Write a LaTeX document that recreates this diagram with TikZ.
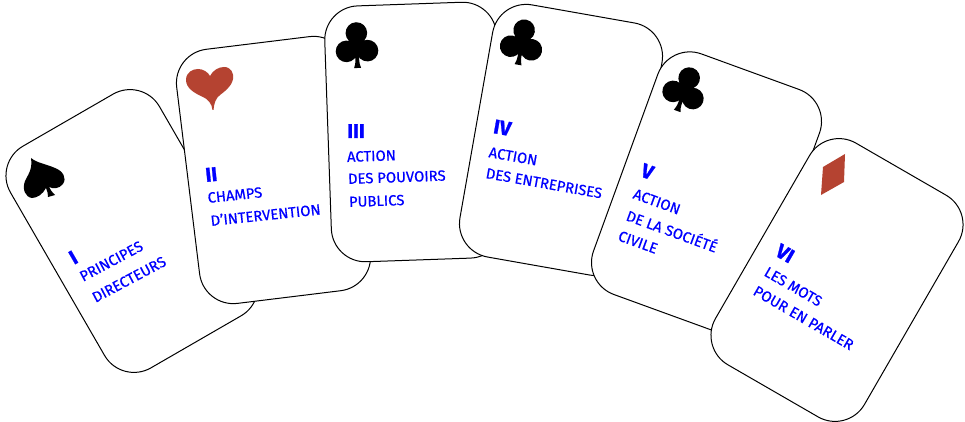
\documentclass[tikz,border=0pt]{standalone}
\usepackage{fontspec}
\setmainfont{Fira Sans}
\newfontfamily\labfont[FakeBold=0.5]{Fira Sans}
\newfontfamily\numfont[FakeBold=1.2]{Fira Sans}
\definecolor{suitred}{RGB}{181,67,49}
\definecolor{txtblue}{RGB}{0,0,255}
\tikzset{
  card/.style={draw=black,fill=white,line width=1pt,rectangle,minimum width=172pt,minimum height=256pt,rounded corners=34pt,inner sep=0pt},
  lab/.style={text=txtblue,anchor=base west,inner sep=0pt,font=\labfont\fontsize{14.8}{15}\selectfont},
  num/.style={text=txtblue,anchor=base west,inner sep=0pt,font=\numfont\fontsize{20}{20}\selectfont\bfseries},
  suitblack/.style={fill=black,draw=none},
  suitredf/.style={fill=suitred,draw=none},
  clubsuit/.pic={
    \fill[suitblack] (0,-18) circle (10.8) (-10.5,0) circle (10.8) (10.5,0) circle (10.8);
    \fill[suitblack] (-6,-10) -- (6,-10) -- (1.8,8) .. controls (2,12) and (2.5,15) .. (3.5,17) -- (-3.5,17) .. controls (-2.5,15) and (-2,12) .. (-1.8,8) -- cycle;
  }
}
\begin{document}
\begin{tikzpicture}[x=1pt,y=-1pt]
\useasboundingbox (0,0) rectangle (965,422);
% I
\node[card,rotate=30] (c1) at (132,231) {};
\fill[suitblack] (31,158) .. controls (37,163) and (46,164) .. (55,168) .. controls (63,171) and (67,178) .. (63,184) .. controls (59,189) and (53,189) .. (49,187) .. controls (50.5,190) and (52,192) .. (55,195) -- (48,197) .. controls (48,194) and (47.5,191) .. (46,188) .. controls (43,194) and (37,198) .. (32,198) .. controls (25,197) and (22,189) .. (25,181) .. controls (27,176) and (33,170) .. (31,158) -- cycle;
\node[num,rotate=30] (n1) at (74,265) {I};
\node[lab,rotate=28] (t1a) at (83,282) {PRINCIPES};
\node[lab,rotate=28] (t1b) at (95.5,303) {DIRECTEURS};
% II
\node[card,rotate=7] (c2) at (273.5,170) {};
\fill[suitredf] (210,76) .. controls (213,70) and (219,67) .. (224,67) .. controls (231,67) and (234,73) .. (233,79) .. controls (232,86) and (224,92) .. (220,95) .. controls (216,98) and (214,103) .. (213.5,110) -- (212.5,110) .. controls (212,104) and (208,99) .. (203,97) .. controls (194,93) and (186,88) .. (186,80) .. controls (186,72) and (193,69) .. (198,69) .. controls (203,69) and (208,72) .. (210,76) -- cycle;
\node[num,rotate=6] (n2) at (206,182) {II};
\node[lab,rotate=6] (t2a) at (208,203) {CHAMPS};
\node[lab,rotate=6] (t2b) at (211,226) {D’INTERVENTION};
% III
\node[card,rotate=2] (c3) at (414,132) {};
\pic[rotate=2] at (357,51) {clubsuit};
\node[num,rotate=0] (n3) at (347,138) {III};
\node[lab,rotate=2] (t3a) at (347,162) {ACTION};
\node[lab,rotate=2] (t3b) at (348,184) {DES POUVOIRS};
\node[lab,rotate=2] (t3c) at (349,207) {PUBLICS};
% IV
\node[card,rotate=-10] (c4) at (561,140) {};
\pic[rotate=-10] at (521,48) {clubsuit};
\node[num,rotate=-10] (n4) at (492.5,133) {IV};
\node[lab,rotate=-10] (t4a) at (488,157) {ACTION};
\node[lab,rotate=-10] (t4b) at (485,178) {DES ENTREPRISES};
% V
\node[card,rotate=-20] (c5) at (706.5,192) {};
\pic[rotate=-20] at (683,95) {clubsuit};
\node[num,rotate=-20] (n5) at (639.5,176) {V};
\node[lab,rotate=-20] (t5a) at (632,198) {ACTION};
\node[lab,rotate=-20] (t5b) at (625,220) {DE LA SOCIÉTÉ};
\node[lab,rotate=-20] (t5c) at (617,240) {CIVILE};
% VI
\node[card,rotate=-30] (c6) at (837,280) {};
\fill[suitredf] (845,154) -- (844,182) -- (821,195) -- (823,167) -- cycle;
\node[num,rotate=-30] (n6) at (774,255) {VI};
\node[lab,rotate=-30] (t6a) at (763,275) {LES MOTS};
\node[lab,rotate=-30] (t6b) at (752,294) {POUR EN PARLER};
\end{tikzpicture}
\end{document}
